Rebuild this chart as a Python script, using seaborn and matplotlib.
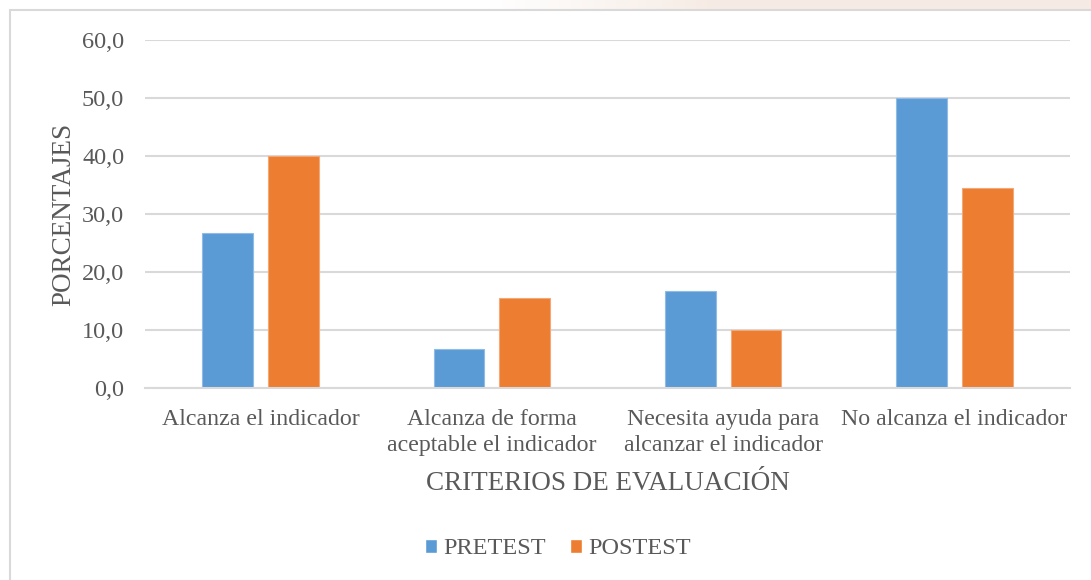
import numpy as np
import pandas as pd
import matplotlib
matplotlib.use("Agg")
import matplotlib.pyplot as plt
from matplotlib.patches import Rectangle
from matplotlib.ticker import FuncFormatter
import seaborn as sns

# Evaluation criteria and percentage of students per test
categories = [
    "Alcanza el indicador",
    "Alcanza de forma\naceptable el indicador",
    "Necesita ayuda para\nalcanzar el indicador",
    "No alcanza el indicador",
]
series = ["PRETEST", "POSTEST"]
pretest = [26.7, 6.7, 16.7, 50.0]
postest = [40.0, 15.6, 10.0, 34.4]
y_ticks = [0, 10, 20, 30, 40, 50, 60]

colors = {"PRETEST": "#5B9BD5", "POSTEST": "#ED7D31"}
edges = {"PRETEST": "#8FBBE4", "POSTEST": "#F3A878"}
text_color = "#595959"
grid_color = "#D9D9D9"

df = pd.DataFrame({
    "Criterio": categories * 2,
    "Prueba": [series[0]] * 4 + [series[1]] * 4,
    "Porcentaje": pretest + postest,
})

sns.set_theme(style="white")
plt.rcParams["font.family"] = ["Liberation Serif", "DejaVu Serif"]

W, H = 1091, 580
fig = plt.figure(figsize=(W / 100, H / 100), dpi=100)
fig.patch.set_facecolor("white")

# faint warm band along the top edge of the page
band = fig.add_axes([0, 1 - 10 / H, 1, 10 / H])
grad = np.linspace(0, 1, 400)
mask = np.clip((grad - 0.45) / 0.2, 0, 1)
c_white = np.array([1.0, 1.0, 1.0])
c_peach = np.array([0.965, 0.925, 0.895])
row = c_white[None, :] * (1 - mask[:, None]) + c_peach[None, :] * mask[:, None]
band.imshow(row[None, :, :], aspect="auto", extent=[0, 1, 0, 1])
band.set_axis_off()

ax = fig.add_axes([145 / W, 1 - 388 / H, 925 / W, 348 / H])

sns.barplot(
    data=df, x="Criterio", y="Porcentaje", hue="Prueba",
    palette=colors, width=0.57, gap=0.23, ax=ax, saturation=1,
    errorbar=None,
)

for cont, s in zip(ax.containers, series):
    for bar in cont:
        bar.set_edgecolor(edges[s])
        bar.set_linewidth(0.8)

ax.set_ylim(0, 60)
ax.set_xlim(-0.5, len(categories) - 0.5)
ax.set_yticks(y_ticks)
ax.yaxis.set_major_formatter(FuncFormatter(lambda v, p: f"{v:.1f}".replace(".", ",")))
ax.yaxis.grid(True, color=grid_color, linewidth=1.5)
ax.set_axisbelow(True)
for side in ["top", "right", "left"]:
    ax.spines[side].set_visible(False)
ax.spines["bottom"].set_color(grid_color)
ax.spines["bottom"].set_linewidth(1.5)
ax.tick_params(axis="y", length=0, colors=text_color, labelsize=17.5, pad=15)
ax.tick_params(axis="x", length=0, colors=text_color, labelsize=17.2, pad=15)
for lbl in ax.get_xticklabels():
    lbl.set_linespacing(1.3)

ax.set_xlabel("CRITERIOS DE EVALUACIÓN", fontsize=19.5, color=text_color, labelpad=11)
ax.set_ylabel("PORCENTAJES", fontsize=19.5, color=text_color, labelpad=4)

sns.move_legend(
    ax, "center", bbox_to_anchor=((558 - 145) / 925.0, -(549 - 388) / 348.0),
    ncol=2, frameon=False, title=None, fontsize=17.5,
    handlelength=0.5, handleheight=0.5, handletextpad=0.25, columnspacing=1.0,
)
for t in ax.get_legend().get_texts():
    t.set_color(text_color)

# outer chart frame
fig.patches.append(Rectangle(
    (10 / W, -0.1), 1.2, 1.1 - 10 / H, transform=fig.transFigure,
    fill=False, edgecolor="#D9D9D9", linewidth=1.5, clip_on=False,
))

fig.savefig("out.png", dpi=100)
